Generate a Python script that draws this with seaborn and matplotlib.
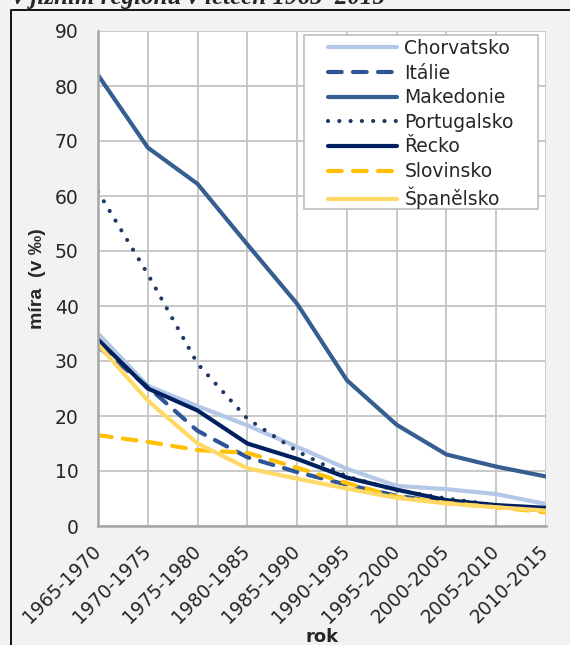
import matplotlib
matplotlib.use("Agg")
import matplotlib.pyplot as plt
from matplotlib.lines import Line2D
from matplotlib.patches import Rectangle
import seaborn as sns
import pandas as pd

# Five-year periods
periods = ["1965-1970", "1970-1975", "1975-1980", "1980-1985", "1985-1990",
           "1990-1995", "1995-2000", "2000-2005", "2005-2010", "2010-2015"]

# Rates per country (per mille)
chorvatsko = [35.0, 25.5, 21.8, 18.3, 14.4, 10.4, 7.3, 6.7, 5.8, 4.0]
italie = [32.6, 25.3, 17.3, 12.5, 9.8, 7.5, 5.5, 4.2, 3.5, 2.8]
makedonie = [82.0, 68.8, 62.2, 51.2, 40.4, 26.5, 18.4, 13.0, 10.8, 9.0]
portugalsko = [60.8, 45.8, 29.5, 19.5, 13.6, 9.0, 6.5, 5.0, 3.8, 3.2]
recko = [33.9, 25.0, 21.0, 15.0, 12.2, 8.8, 6.6, 4.7, 3.8, 3.3]
slovinsko = [16.5, 15.3, 13.8, 13.3, 10.6, 7.8, 5.3, 4.2, 3.4, 2.5]
spanelsko = [33.0, 22.8, 15.0, 10.5, 8.6, 6.8, 5.1, 4.1, 3.4, 2.8]

countries = ["Chorvatsko", "Itálie", "Makedonie", "Portugalsko", "Řecko",
             "Slovinsko", "Španělsko"]
series = [chorvatsko, italie, makedonie, portugalsko, recko, slovinsko, spanelsko]

colors = ["#b4c7e7", "#2f5597", "#355e91", "#203864", "#002060",
          "#ffc000", "#ffd966"]
dashed = (0, (3.3, 2.7))
dotted = (0, (0.01, 2.7))
styles = ["-", dashed, "-", dotted, "-", dashed, "-"]

rows = []
for name, vals in zip(countries, series):
    for i, v in enumerate(vals):
        rows.append({"pos": i, "rate": v, "country": name})
df = pd.DataFrame(rows)

sns.set_style("white")
plt.rcParams["font.family"] = ["DejaVu Sans"]

W, H = 570, 645
fig = plt.figure(figsize=(W / 100, H / 100), dpi=100)
fig.patch.set_facecolor("#f2f2f2")
ax = fig.add_axes([98 / W, (H - 526) / H, (546 - 98) / W, (526 - 31) / H])
ax.set_facecolor("white")

for name, col, ls in zip(countries, colors, styles):
    sub = df[df["country"] == name]
    sns.lineplot(data=sub, x="pos", y="rate", ax=ax, color=col,
                 linestyle=ls, linewidth=3, label=name,
                 dash_capstyle="round", solid_capstyle="round",
                 estimator=None, sort=False)

ax.set_xlim(0, len(periods) - 1)
ax.set_ylim(0, 90)
ax.set_yticks(range(0, 91, 10))
ax.set_xticks(range(len(periods)))
ax.set_xticklabels(periods, rotation=45, ha="right", va="center",
                   rotation_mode="anchor", fontsize=13.5)
ax.tick_params(axis="y", labelsize=13.5, length=0, pad=14)
ax.tick_params(axis="x", length=0, pad=16)

ax.grid(True, color="#c4c4c4", linewidth=1.3)
ax.set_axisbelow(True)
for side in ["top", "right"]:
    ax.spines[side].set_visible(False)
for side in ["left", "bottom"]:
    ax.spines[side].set_color("#a6a6a6")
    ax.spines[side].set_linewidth(1.8)

ax.set_ylabel("míra  (v ‰)", fontfamily="Liberation Sans", fontweight="bold",
              fontsize=14, labelpad=6)
ax.set_xlabel("")
fig.text(322 / W, 1 - 642 / H, "rok", ha="center", va="baseline",
         fontweight="bold", fontsize=13)

# legend box and entries
ax.add_patch(Rectangle((304 / W, 1 - 209 / H), (538 - 304) / W, (209 - 35) / H,
                       transform=fig.transFigure, facecolor="white",
                       edgecolor="#bfbfbf", linewidth=1.2, zorder=4,
                       clip_on=False))
leg = ax.legend(loc="upper left", bbox_to_anchor=(328 / W, 1 - 39 / H),
                bbox_transform=fig.transFigure, frameon=False,
                fontsize=13.5, handlelength=3.7, handletextpad=0.37,
                labelspacing=0.3, borderpad=0, borderaxespad=0)
leg.set_zorder(5)

# outer frame and heading line at the top
fig.add_artist(Line2D([11 / W, 11 / W, 1.01], [-0.01, 1 - 10 / H, 1 - 10 / H],
                      color="black", linewidth=1.3, transform=fig.transFigure))
fig.text(385 / W, 1 - 4 / H, "v jižním regionu v letech 1965–2015",
         ha="right", va="baseline", fontfamily="Liberation Serif",
         fontweight="bold", fontstyle="italic", fontsize=18)

fig.savefig("out.png", dpi=100, facecolor=fig.get_facecolor())
